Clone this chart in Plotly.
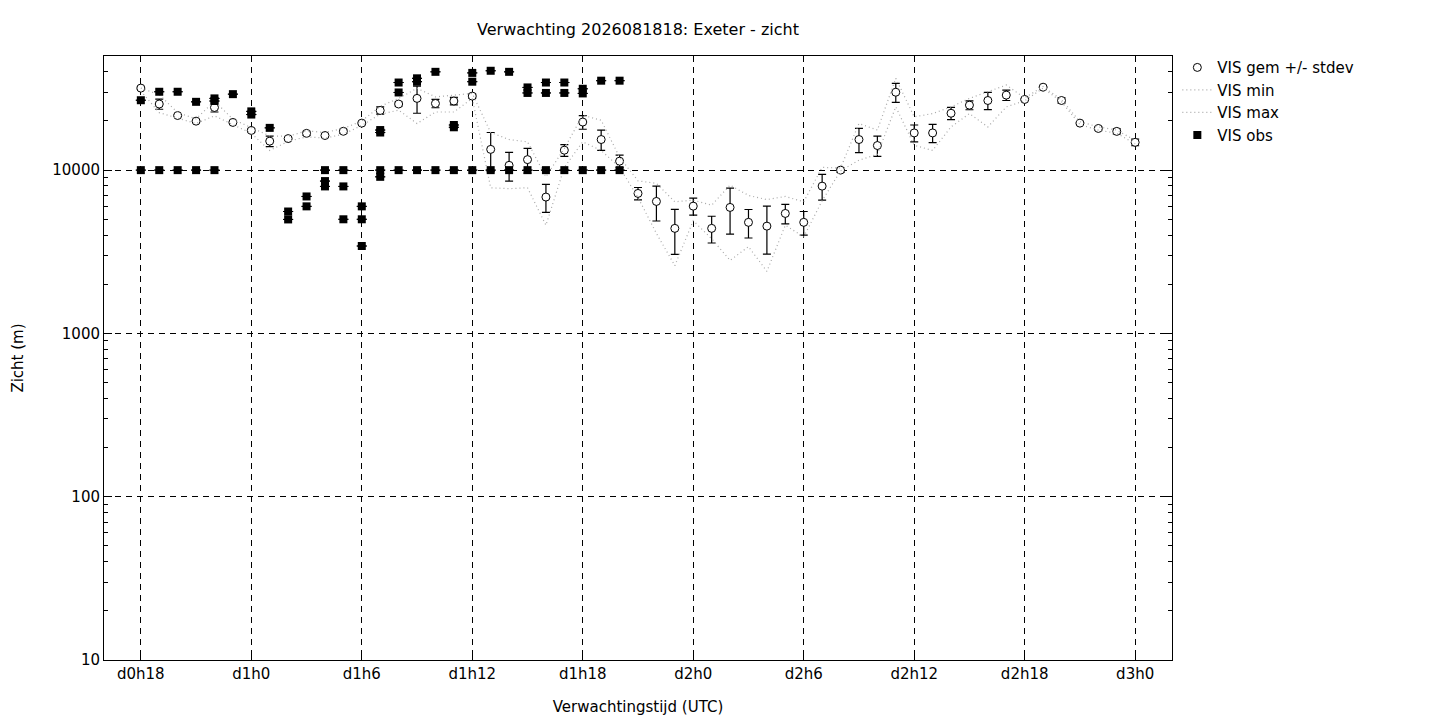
import plotly.graph_objects as go

# forecast hours (hours after d0h0), one per hour from d0h18 to d3h0
hours = list(range(18, 73))

vis_mean = [31800, 25400, 21600, 19950, 24200, 19600, 17500, 15050, 15600, 16800,
            16300, 17300, 19400, 23200, 25400, 27500, 25600, 26500, 28400, 13400,
            10700, 11600, 6840, 13250, 19700, 15400, 11350, 7200, 6430, 4400,
            6020, 4400, 5910, 4790, 4540, 5430, 4790, 7980, 10000, 15400,
            14150, 30000, 16900, 16900, 22300, 25000, 26700, 28800, 27100, 32200,
            26700, 19400, 18000, 17270, 14800]
vis_std = [600, 1800, 300, 300, 1500, 300, 400, 1100, 300, 500,
           400, 500, 300, 1200, 700, 5200, 1500, 1400, 800, 3600,
           2130, 2000, 1330, 1100, 1900, 2200, 1000, 630, 1550, 1350,
           720, 820, 1850, 950, 1480, 740, 790, 1430, 300, 2600,
           2000, 4000, 2000, 2160, 1900, 1560, 3200, 2100, 300, 300,
           1000, 300, 400, 600, 700]
vis_min = [30500, 22500, 20800, 19300, 21500, 19000, 16800, 13200, 15000, 16000,
           15700, 16600, 18800, 22000, 23300, 19300, 22700, 22700, 27500, 7800,
           7700, 7800, 4600, 10400, 14900, 13200, 10400, 6800, 4100, 2600,
           4900, 3800, 2800, 3400, 2400, 4600, 3900, 6500, 9900, 11500,
           12500, 24400, 14200, 13200, 18400, 22200, 18400, 24400, 26600, 31800,
           26200, 19000, 17600, 16800, 14500]
vis_max = [31800, 29000, 22500, 20600, 26500, 20500, 18200, 16200, 16100, 17400,
           17000, 18000, 20000, 24600, 27500, 31700, 28100, 28800, 29500, 17000,
           15400, 14900, 9100, 13600, 21700, 20200, 12000, 8600, 8300, 6400,
           6550, 6100, 8100, 7000, 6600, 6900, 6400, 10400, 10300, 19300,
           17600, 36500, 21200, 22200, 24400, 27500, 30200, 33200, 27700, 32500,
           27000, 19800, 18400, 17600, 15200]

# observations (several stations per hour)
obs_hour = [18, 18, 19, 19, 20, 20, 21, 21, 22, 22, 22, 23, 24, 24, 25,
            26, 26, 27, 27, 28, 28, 28, 29, 29, 29, 30, 30, 30,
            31, 31, 31, 31, 32, 32, 32, 33, 33, 33, 34, 34, 35, 35, 35,
            36, 36, 36, 37, 37, 38, 38, 39, 39, 39, 40, 40, 40, 41, 41, 41,
            42, 42, 42, 43, 43, 44, 44]
obs_vis = [26800, 10000, 30200, 10000, 30200, 10000, 26200, 10000, 27500, 26500, 10000, 29200, 22900, 21900, 18150,
           5580, 4990, 6900, 6000, 10000, 8570, 7950, 10000, 7950, 5000, 6000, 5000, 3430,
           17600, 17000, 10000, 9100, 34400, 29900, 10000, 36500, 34800, 10000, 40000, 10000, 18900, 18300, 10000,
           39400, 34800, 10000, 40600, 10000, 40000, 10000, 32100, 29700, 10000, 34400, 29700, 10000, 34400, 29700, 10000,
           31500, 29500, 10000, 35300, 10000, 35300, 10000]

tick_hours = list(range(18, 73, 6))
tick_text = [f"d{h // 24}h{h % 24}" for h in tick_hours]

font = "DejaVu Sans, Liberation Sans, sans-serif"
fs = 15

fig = go.Figure()

fig.add_trace(go.Scatter(
    x=hours, y=vis_mean, mode="markers", name="VIS gem +/- stdev",
    marker=dict(symbol="circle", size=8, color="white", line=dict(color="black", width=1)),
    error_y=dict(type="data", array=vis_std, visible=True, color="black", thickness=1.2, width=4),
))
fig.add_trace(go.Scatter(
    x=hours, y=vis_min, mode="lines", name="VIS min",
    line=dict(color="#a8a8a8", width=1.2, dash="1px,3px"),
))
fig.add_trace(go.Scatter(
    x=hours, y=vis_max, mode="lines", name="VIS max",
    line=dict(color="#a8a8a8", width=1.2, dash="1px,3px"),
))
fig.add_trace(go.Scatter(
    x=obs_hour, y=obs_vis, mode="markers", name="VIS obs",
    marker=dict(symbol="square", size=8, color="black"),
    error_y=dict(type="constant", value=0, visible=True, color="black", thickness=1, width=5),
))

fig.update_layout(
    width=1440, height=720,
    paper_bgcolor="white", plot_bgcolor="white",
    font=dict(family=font, size=fs, color="black"),
    margin=dict(l=104, r=268, t=56, b=60),
    title=dict(text="Verwachting 2026081818: Exeter - zicht", x=0.5, xref="paper",
               y=1 - 29 / 720, yanchor="middle", font=dict(size=16)),
    legend=dict(x=1.005, y=1.008, xanchor="left", yanchor="top", bgcolor="rgba(0,0,0,0)",
                font=dict(size=fs), tracegroupgap=0, itemwidth=30),
    showlegend=True,
)

fig.update_xaxes(
    range=[16, 74], tickvals=tick_hours, ticktext=tick_text,
    ticks="inside", ticklen=6, tickcolor="black", mirror="allticks",
    showline=True, linecolor="black", linewidth=1,
    showgrid=True, gridcolor="black", gridwidth=1, griddash="6px,5px",
    zeroline=False, tickfont=dict(size=fs), automargin=False,
    title=dict(text="Verwachtingstijd (UTC)", standoff=19, font=dict(size=fs)),
)
fig.update_yaxes(
    type="log", range=[1, 4.699], tickvals=[10, 100, 1000, 10000],
    ticktext=["10", "100", "1000", "10000"],
    ticks="inside", ticklen=8, tickcolor="black", mirror="allticks",
    minor=dict(ticks="inside", ticklen=4, tickcolor="black", showgrid=False,
               tickvals=[m * 10 ** e for e in range(1, 5) for m in range(2, 10)]),
    showline=True, linecolor="black", linewidth=1,
    showgrid=True, gridcolor="black", gridwidth=1, griddash="6px,5px",
    zeroline=False, tickfont=dict(size=fs), automargin=False,
    title=dict(text="Zicht (m)", standoff=25, font=dict(size=fs)),
)

# drop the browser's default 8px body margin so the figure fills the window exactly
fig.write_html("out.html", config={"displayModeBar": False},
               post_script="document.body.style.margin='0';")
